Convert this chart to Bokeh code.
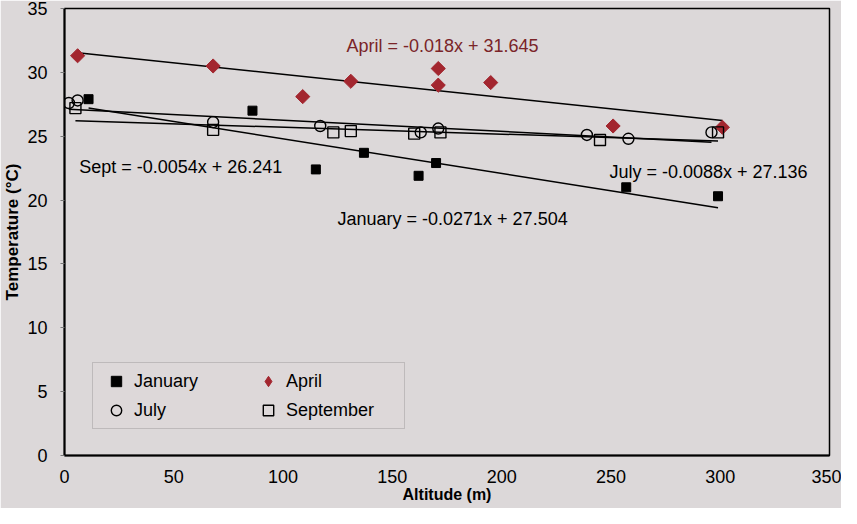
import numpy as np
from bokeh.plotting import figure
from bokeh.models import Range1d, FixedTicker, Label, Legend, LegendItem
from bokeh.embed import file_html
from bokeh.resources import INLINE

# ---- data ----
jan_alt = [11, 86, 115, 137, 162, 170, 257, 299]
jan_temp = [27.9, 27.0, 22.4, 23.7, 21.9, 22.9, 21.0, 20.3]

apr_alt = [6, 68, 109, 131, 171, 171, 195, 251, 301]
apr_temp = [31.3, 30.5, 28.1, 29.3, 30.3, 29.0, 29.2, 25.8, 25.7]

jul_alt = [2, 6, 68, 117, 163, 171, 239, 258, 296]
jul_temp = [27.6, 27.8, 26.1, 25.8, 25.3, 25.6, 25.1, 24.8, 25.3]

sep_alt = [5, 68, 123, 131, 160, 172, 245, 299]
sep_temp = [27.2, 25.5, 25.3, 25.4, 25.2, 25.3, 24.7, 25.3]

# trendline coefficients (slope, intercept) as printed on the chart
jan_fit = [-0.0271, 27.504]
apr_fit = [-0.018, 31.645]
jul_fit = [-0.0088, 27.136]
sep_fit = [-0.0054, 26.241]

series_names = ["January", "April", "July", "September"]
x_ticks = [0, 50, 100, 150, 200, 250, 300, 350]
y_ticks = [0, 5, 10, 15, 20, 25, 30, 35]

BG = "#dcd8d9"
APR = "#a3262f"
APR_TXT = "#7a2428"
FONT = "Liberation Sans"

p = figure(width=841, height=508, x_range=Range1d(0, 350), y_range=Range1d(0, 35),
           output_backend="svg", toolbar_location=None,
           min_border_left=64, min_border_right=12, min_border_top=8, min_border_bottom=53)
p.background_fill_color = BG
p.border_fill_color = BG
p.outline_line_color = "black"
p.outline_line_width = 1.5
p.xgrid.visible = False
p.ygrid.visible = False

for ax in (p.xaxis[0], p.yaxis[0]):
    ax.axis_line_color = "black"
    ax.axis_line_width = 2
    ax.major_tick_in = 0
    ax.minor_tick_line_color = None
    ax.major_label_text_font = FONT
    ax.major_label_text_font_size = "18px"
    ax.major_label_text_color = "black"
    ax.axis_label_text_font = FONT
    ax.axis_label_text_font_style = "bold"
    ax.axis_label_text_color = "black"

p.xaxis.ticker = FixedTicker(ticks=x_ticks)
p.yaxis.ticker = FixedTicker(ticks=y_ticks)
p.xaxis.axis_label = "Altitude (m)"
p.yaxis.axis_label = "Temperature (°C)"
p.xaxis.axis_label_text_font_size = "16px"
p.yaxis.axis_label_text_font_size = "17px"
p.xaxis.major_tick_out = 0
p.xaxis.major_label_standoff = 14
p.xaxis.axis_label_standoff = 0
p.yaxis.major_tick_out = 4
p.yaxis.major_tick_line_color = "#777777"
p.yaxis.major_label_standoff = 13
p.yaxis.axis_label_standoff = 2

# trendlines
for alt, fit in ((apr_alt, apr_fit), (jan_alt, jan_fit), (jul_alt, jul_fit), (sep_alt, sep_fit)):
    x0, x1 = min(alt), max(alt)
    p.line([x0, x1], [fit[0] * x0 + fit[1], fit[0] * x1 + fit[1]], line_color="black", line_width=1.5)

# April: a diamond-shaped key (for the legend), hidden under the rotated squares in the plot
r_apr_key = p.scatter(apr_alt, apr_temp, marker="diamond", size=10, fill_color=APR, line_color=APR)

r_jan = p.scatter(jan_alt, jan_temp, marker="square", size=9, fill_color="black", line_color="black")
r_apr = p.scatter(apr_alt, apr_temp, marker="square", angle=np.pi / 4, size=10,
                  fill_color=APR, line_color=APR)
r_jul = p.scatter(jul_alt, jul_temp, marker="circle", size=11, fill_color=None, line_color="black", line_width=1.4)
r_sep = p.scatter(sep_alt, sep_temp, marker="square", size=11, fill_color=None, line_color="black", line_width=1.4)

# equation labels
def eq(name, fit):
    return f"{name} = {fit[0]}x + {fit[1]}"

labels = [
    (129, 32.08, eq("April", apr_fit), APR_TXT),
    (6.7, 22.58, eq("Sept", sep_fit), "black"),
    (249.3, 22.19, eq("July", jul_fit), "black"),
    (124.9, 18.5, eq("January", jan_fit), "black"),
]
for x, y, t, c in labels:
    p.add_layout(Label(x=x, y=y, text=t, text_color=c, text_font=FONT, text_font_size="18px",
                       text_baseline="alphabetic", text_align="left"))

legend = Legend(items=[LegendItem(label=series_names[0], renderers=[r_jan]),
                       LegendItem(label=series_names[1], renderers=[r_apr_key]),
                       LegendItem(label=series_names[2], renderers=[r_jul]),
                       LegendItem(label=series_names[3], renderers=[r_sep])],
                orientation="horizontal", ncols=2, location=(28, 26),
                label_text_font=FONT, label_text_font_size="18px", label_text_color="black",
                background_fill_color=BG, border_line_color="#a09c9e", border_line_width=1,
                glyph_width=36, glyph_height=26, label_standoff=0, label_width=113,
                spacing=3, padding=5, margin=0)
p.add_layout(legend, "center")

open("out.html", "w").write(file_html(p, INLINE))
